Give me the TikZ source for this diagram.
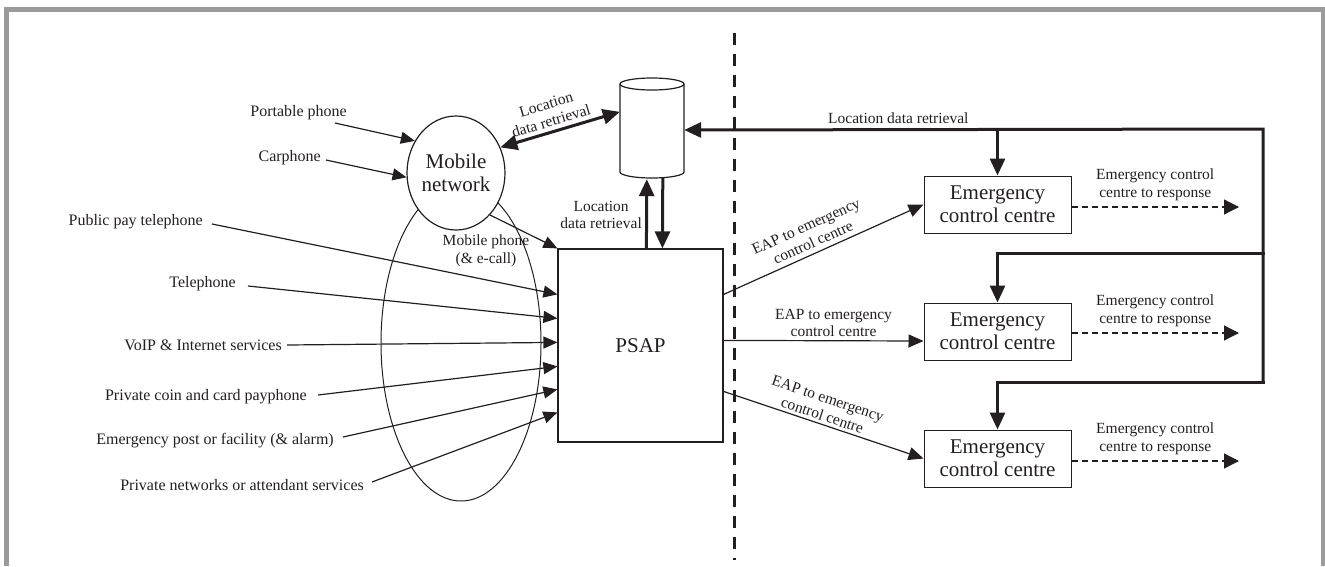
\documentclass[tikz,border=0pt]{standalone}
\usepackage{fontspec}
\setmainfont{Liberation Serif}
\usetikzlibrary{arrows.meta,shapes.geometric,calc}
\definecolor{ink}{HTML}{231F20}
\definecolor{framegray}{HTML}{9B9B9B}
\begin{document}
\begin{tikzpicture}[x=1pt,y=-1pt,
  lbl/.style={font=\fontsize{16}{18}\selectfont, inner sep=0pt, text=ink},
  sml/.style={font=\fontsize{15.5}{17.5}\selectfont, align=center, text=ink, inner sep=1pt},
  big/.style={font=\fontsize{21}{23}\selectfont, align=center, text=ink},
  thinline/.style={line width=1.2pt, draw=ink},
  tarrow/.style={thinline, -{Triangle[length=14pt,width=12pt]}},
  earrow/.style={thinline, -{Triangle[length=15pt,width=13pt]}},
  darrow/.style={thinline, dash pattern=on 6pt off 4pt, -{Triangle[length=15pt,width=15pt]}},
  barrow/.style={line width=3pt, draw=ink, line join=miter, line cap=rect, -{Triangle[length=17pt,width=15pt]}},
  ecc/.style={big, draw=ink, line width=1pt, minimum width=147pt, minimum height=57pt, inner sep=0pt},
]
\useasboundingbox (0,0) rectangle (1325,566);
% frame
\fill[framegray] (4,7) rectangle (1325,12);
\fill[framegray] (4,7) rectangle (9,566);
\fill[framegray] (1321,7) rectangle (1325,566);

% dashed divider
\draw[ink, line width=3pt, dash pattern=on 12pt off 9pt] (734,33) -- (734,560);

% big oval and mobile network
\node[ellipse, draw=ink, line width=1pt, minimum width=160pt, minimum height=316pt, inner sep=0pt] (oval) at (461,343) {};
\node[big, ellipse, draw=ink, line width=1.2pt, fill=white, minimum width=98pt, minimum height=114pt, inner sep=0pt] (mob) at (456,173) {Mobile\\network};

% database cylinder
\node[minimum width=64pt, minimum height=94pt, inner sep=0pt] (db) at (652,131) {};
\draw[ink, line width=1.2pt] (652,84) ellipse [x radius=32, y radius=6];
\draw[ink, line width=1.2pt] (620,84) -- (620,172) arc[start angle=180, end angle=0, x radius=32, y radius=6] -- (684,84);

% PSAP
\node[big, draw=ink, line width=1.2pt, minimum width=165pt, minimum height=193pt] (psap) at (640.5,345.5) {PSAP};

% emergency control centres
\node[ecc] (e1) at (997.5,204.5) {Emergency\\control centre};
\node[ecc] (e2) at (997.5,331.5) {Emergency\\control centre};
\node[ecc] (e3) at (997.5,458.5) {Emergency\\control centre};

% left labels
\node[lbl, anchor=east] (pp) at (347,113) {Portable phone};
\node[lbl, anchor=east] (cp) at (321,158) {Carphone};
\node[lbl, anchor=east] (pub) at (203,222) {Public pay telephone};
\node[lbl, anchor=east] (tel) at (236,284) {Telephone};
\node[lbl, anchor=east] (voip) at (282,345) {VoIP \& Internet services};
\node[lbl, anchor=east] (coin) at (307,397) {Private coin and card payphone};
\node[lbl, anchor=east] (post) at (334,441) {Emergency post or facility (\& alarm)};
\node[lbl, anchor=east] (priv) at (364,485) {Private networks or attendant services};

% inputs
\draw[tarrow] ($(pp.east)+(-12,10)$) -- (mob.142);
\draw[tarrow] ($(cp.east)+(5,2)$) -- (mob.185);
\draw[tarrow] ($(pub.east)+(9,2)$) -- ($(psap.north west)+(0,46)$);
\draw[tarrow] ($(tel.east)+(12,2)$) -- ($(psap.north west)+(0,70)$);
\draw[tarrow] ($(voip.east)+(5,0)$) -- ($(psap.north west)+(0,94)$);
\draw[tarrow] ($(coin.east)+(11,-2)$) -- ($(psap.north west)+(0,118)$);
\draw[tarrow] ($(post.east)+(9,-4)$) -- ($(psap.north west)+(0,141)$);
\draw[tarrow] ($(priv.east)+(8,-3)$) -- ($(psap.north west)+(0,164)$);

% mobile phone to PSAP
\draw[tarrow] (mob.-51) -- (psap.north west);
\node[sml] (mpl) at (486,251) {Mobile phone\\(\& e-call)};

% mobile network <-> database
\draw[barrow, {Triangle[length=17pt,width=15pt]}-{Triangle[length=17pt,width=15pt]}] (mob.30) -- node[sml, sloped, above=3pt, pos=0.45] {Location\\data retrieval} ($(db.north west)+(0,28)$);

% PSAP <-> database
\draw[barrow] ($(psap.north west)+(89,0)$) -- ($(db.south west)+(27,1)$);
\draw[barrow] ($(db.south west)+(43,1)$) -- ($(psap.north west)+(105,0)$);
\node[sml, anchor=east] (ldr2) at (643,215) {Location\\data retrieval};

% location data trunk
\coordinate (tr) at (1263,129);
\coordinate (t2) at (1263,253);
\coordinate (t3) at (1263,382);
\draw[barrow] (t3) -- (tr) -- node[sml, above=3pt, pos=0.63] {Location data retrieval} ($(db.east)+(0,-1)$);
\draw[barrow] (e1.north |- tr) -- (e1.north);
\draw[barrow] (t2) -| (e2.north);
\draw[barrow] (t3) -| (e3.north);

% PSAP to emergency control centres
\draw[earrow] ($(psap.north east)+(0,46)$) -- node[sml, sloped, above=4pt, pos=0.47] {EAP to emergency\\control centre} (e1.west);
\draw[earrow] ($(psap.north east)+(0,92)$) -- node[sml, above=2pt, pos=0.55] {EAP to emergency\\control centre} ($(e2.west)+(0,9.5)$);
\draw[earrow] ($(psap.north east)+(0,143)$) -- node[sml, sloped, above=2pt, pos=0.48] {EAP to emergency\\control centre} (e3.west);

% responses
\coordinate (r1) at (1239,207);
\coordinate (r2) at (1239,333);
\coordinate (r3) at (1239,461);
\draw[darrow] (e1.east |- r1) -- node[sml, above=5pt] {Emergency control\\centre to response} (r1);
\draw[darrow] (e2.east |- r2) -- node[sml, above=5pt] {Emergency control\\centre to response} (r2);
\draw[darrow] (e3.east |- r3) -- node[sml, above=5pt] {Emergency control\\centre to response} (r3);
\end{tikzpicture}
\end{document}
